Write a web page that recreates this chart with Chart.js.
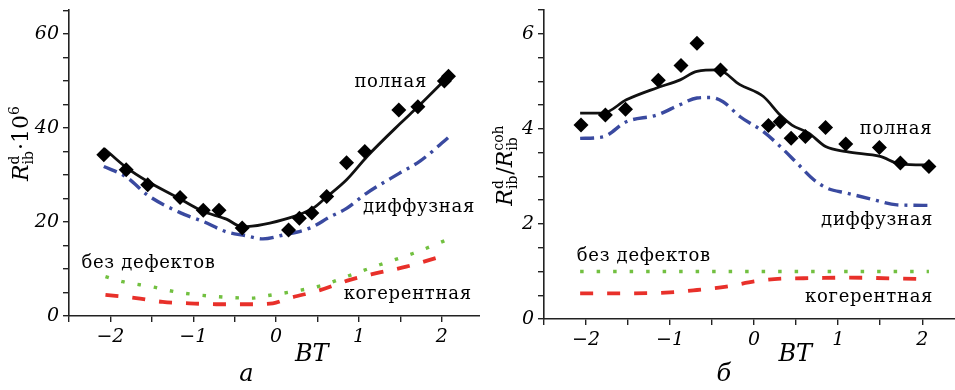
<!DOCTYPE html>
<html>
<head>
<meta charset="utf-8">
<script src="https://cdn.jsdelivr.net/npm/chart.js@4.4.0/dist/chart.umd.min.js"></script>
<style>
  body { margin: 0; background: #fff; width: 955px; height: 390px; overflow: hidden; position: relative; }
  .box { position: absolute; top: 0; height: 390px; }
</style>
</head>
<body>
<div class="box" style="left:0;width:480px"><canvas id="chartA"></canvas></div>
<div class="box" style="left:480px;width:475px"><canvas id="chartB"></canvas></div>
<script>
// ---- panel a : R_ib^d * 10^6 vs BT ----
const dotsBtA = [-2.08, -1.81, -1.55, -1.16, -0.88, -0.69, -0.41, 0.15, 0.28, 0.43, 0.61, 0.85, 1.07, 1.48, 1.71, 2.03, 2.08];
const dotsA   = [34.3, 31.1, 27.9, 25.2, 22.5, 22.5, 18.7, 18.3, 20.8, 21.9, 25.4, 32.6, 35.0, 43.8, 44.5, 50.0, 51.0];

const fullBtA = [-2.08, -1.81, -1.55, -1.2, -0.9, -0.6, -0.41, 0.18, 0.45, 0.6, 0.85, 1.1, 1.5, 1.71, 2.08];
const fullA   = [35.7, 31.6, 28.6, 25.3, 22.4, 20.6, 19.0, 21.0, 23.0, 25.2, 29.0, 34.0, 41.0, 44.5, 51.0];

const diffBtA = [-2.08, -1.81, -1.55, -1.16, -0.88, -0.6, -0.37, -0.16, 0.08, 0.42, 0.64, 0.85, 1.09, 1.49, 1.74, 2.08];
const diffA   = [31.8, 29.6, 25.7, 22.0, 20.1, 17.9, 17.1, 16.4, 17.2, 18.8, 21.0, 22.9, 26.1, 30.4, 33.0, 38.0];

const cleanBtA = [-2.06, -1.85, -1.49, -1.29, -1.09, -0.7, -0.3, -0.12, 0.2, 0.55, 0.85, 1.25, 1.65, 2.06];
const cleanA   = [8.4, 7.3, 6.2, 5.4, 4.8, 4.1, 3.8, 4.3, 5.2, 6.5, 8.4, 10.9, 13.3, 16.2];

const cohBtA = [-2.06, -1.69, -1.37, -1.05, -0.72, -0.32, -0.04, 0.16, 0.53, 0.89, 1.21, 1.57, 1.98];
const cohA   = [4.5, 3.8, 3.0, 2.7, 2.5, 2.5, 2.7, 3.8, 5.5, 7.7, 9.1, 10.5, 12.6];

// ---- panel б : R_ib^d / R_ib^coh vs BT ----
const dotsBtB = [-2.06, -1.77, -1.53, -1.14, -0.87, -0.68, -0.4, 0.17, 0.31, 0.44, 0.61, 0.85, 1.09, 1.49, 1.74, 2.08];
const dotsB   = [4.08, 4.29, 4.41, 5.02, 5.33, 5.8, 5.24, 4.07, 4.15, 3.8, 3.84, 4.03, 3.68, 3.61, 3.28, 3.21];

const fullBtB = [-2.07, -1.8, -1.52, -1.16, -0.88, -0.68, -0.43, -0.17, 0.11, 0.31, 0.45, 0.65, 0.85, 1.1, 1.5, 1.74, 2.08];
const fullB   = [4.33, 4.33, 4.61, 4.86, 5.03, 5.21, 5.24, 4.93, 4.68, 4.29, 4.08, 3.91, 3.63, 3.52, 3.42, 3.26, 3.24];

const diffBtB = [-2.07, -1.8, -1.52, -1.16, -0.88, -0.68, -0.52, -0.37, -0.17, 0.11, 0.31, 0.51, 0.71, 0.87, 1.1, 1.42, 1.7, 2.08];
const diffB   = [3.8, 3.83, 4.15, 4.29, 4.51, 4.65, 4.66, 4.57, 4.26, 3.94, 3.63, 3.28, 2.93, 2.75, 2.65, 2.51, 2.4, 2.39];

const cleanBtB = [-2.07, 2.08];
const cleanB   = [1.0, 1.0];

const cohBtB = [-2.07, -1.5, -1.0, -0.68, -0.33, 0.0, 0.24, 0.73, 1.1, 2.0];
const cohB   = [0.54, 0.54, 0.56, 0.61, 0.68, 0.79, 0.84, 0.86, 0.87, 0.84];

const curveNames = ['полная', 'диффузная', 'без дефектов', 'когерентная'];

// label anchors in data units: [bt, value, align]
const labelsA = [[1.82, 49.8, 'right'], [2.4, 23.2, 'right'], [-2.35, 11.1, 'left'], [2.36, 4.7, 'right']];
const labelsB = [[2.12, 3.98, 'right'], [2.13, 2.08, 'right'], [-2.11, 1.31, 'left'], [2.13, 0.46, 'right']];

const SERIF = '"DejaVu Serif", serif';

function pts(xs, ys) { return xs.map((x, i) => ({ x: x, y: ys[i] })); }
function minus(v) { return v < 0 ? '\u2212' + Math.abs(v) : String(v); }

// R^d_ib style text: parts are {t, it} or {sup, sub}
function richWidth(ctx, parts, size) {
    let w = 0;
    parts.forEach(p => {
        if (p.t !== undefined) {
            ctx.font = (p.it ? 'italic ' : '') + size + 'px ' + SERIF;
            w += ctx.measureText(p.t).width;
        } else {
            ctx.font = Math.round(size * 0.64) + 'px ' + SERIF;
            w += Math.max(ctx.measureText(p.sup || '').width, ctx.measureText(p.sub || '').width) + 1;
        }
    });
    return w;
}
function drawRich(ctx, parts, x, y, size) {
    let cx = x;
    parts.forEach(p => {
        if (p.t !== undefined) {
            ctx.font = (p.it ? 'italic ' : '') + size + 'px ' + SERIF;
            ctx.fillText(p.t, cx, y);
            cx += ctx.measureText(p.t).width;
        } else {
            ctx.font = Math.round(size * 0.64) + 'px ' + SERIF;
            if (p.sup) ctx.fillText(p.sup, cx, y - size * 0.42);
            if (p.sub) ctx.fillText(p.sub, cx, y + size * 0.22);
            cx += Math.max(ctx.measureText(p.sup || '').width, ctx.measureText(p.sub || '').width) + 1;
        }
    });
}

const decorPlugin = {
    id: 'decor',
    afterDraw(chart) {
        const o = chart.options.plugins.decor;
        const ctx = chart.ctx;
        const xs = chart.scales.x, ys = chart.scales.y;
        ctx.save();
        ctx.fillStyle = '#000';
        ctx.textBaseline = 'middle';
        ctx.font = '18px ' + SERIF;
        ctx.letterSpacing = '0.7px';
        o.labels.forEach((l, i) => {
            ctx.textAlign = l[2];
            ctx.fillText(curveNames[i], xs.getPixelForValue(l[0]), ys.getPixelForValue(l[1]));
        });
        ctx.letterSpacing = '0px';
        // x title and panel letter
        ctx.textAlign = 'center';
        ctx.font = 'italic 24px ' + SERIF;
        ctx.fillText('BT', xs.getPixelForValue(o.btAt), 355);
        ctx.fillText(o.letter, xs.getPixelForValue(-0.36), 375);
        // y title, rotated
        ctx.textAlign = 'left';
        ctx.textBaseline = 'alphabetic';
        const w = richWidth(ctx, o.ytitle, 22);
        ctx.translate(o.ytX, o.ytY);
        ctx.rotate(-Math.PI / 2);
        drawRich(ctx, o.ytitle, -w / 2, 0, 22);
        ctx.restore();
    }
};

function makeChart(id, sets, cfg) {
    const diamonds = {
        label: 'эксперимент', data: pts(sets[0][0], sets[0][1]), showLine: false,
        pointStyle: 'rectRot', pointRadius: 7.5, backgroundColor: '#000', borderColor: '#000', borderWidth: 0, order: 0
    };
    const styles = [
        { borderColor: '#111', borderWidth: 2.8, borderDash: [] },
        { borderColor: '#3a4aa0', borderWidth: 3.4, borderDash: [14, 6, 3, 6] },
        { borderColor: '#72c040', borderWidth: 3.4, borderDash: [3.5, 13] },
        { borderColor: '#e8302a', borderWidth: 3.8, borderDash: [13, 14] }
    ];
    const lines = styles.map((s, i) => Object.assign({
        label: curveNames[i], data: pts(sets[i + 1][0], sets[i + 1][1]), showLine: true,
        pointRadius: 0, fill: false, cubicInterpolationMode: 'monotone', borderCapStyle: 'butt', order: 1
    }, s));

    const axisBase = {
        type: 'linear',
        border: { display: true, color: '#222', width: 1.6 },
        grid: { display: true, drawOnChartArea: false, drawTicks: true, tickLength: 6, color: '#222', lineWidth: 1.4 },
    };

    return new Chart(document.getElementById(id), {
        type: 'scatter',
        data: { datasets: [diamonds].concat(lines) },
        options: {
            responsive: true, maintainAspectRatio: false, animation: false,
            layout: { autoPadding: false, padding: { top: 10, right: 0, left: 0, bottom: 0 } },
            plugins: {
                legend: { display: false }, tooltip: { enabled: false },
                decor: cfg.decor
            },
            scales: {
                x: Object.assign({}, axisBase, {
                    min: -2.5, max: cfg.xMax,
                    afterFit: s => { s.height = cfg.xh; s.paddingLeft = 0; s.paddingRight = 0; },
                    ticks: {
                        stepSize: 0.5, includeBounds: false, maxRotation: 0, autoSkip: false, padding: 4,
                        color: '#000', font: { family: SERIF, size: 19, style: 'italic' },
                        callback: v => Number.isInteger(v) ? minus(v) : ''
                    }
                }),
                y: Object.assign({}, axisBase, {
                    min: 0, max: cfg.yMax,
                    afterFit: s => { s.width = cfg.yw; s.paddingTop = 0; s.paddingBottom = 0; },
                    ticks: {
                        stepSize: cfg.yStep, includeBounds: false, autoSkip: false, padding: 4,
                        color: '#000', font: { family: SERIF, size: 19, style: 'italic' },
                        callback: v => (Math.abs(v / cfg.yMajor - Math.round(v / cfg.yMajor)) < 1e-6) ? String(v) : ''
                    }
                })
            }
        },
        plugins: [decorPlugin]
    });
}

makeChart('chartA', [
    [dotsBtA, dotsA], [fullBtA, fullA], [diffBtA, diffA], [cleanBtA, cleanA], [cohBtA, cohA]
], {
    xh: 74, yw: 69, xMax: 2.46, yMax: 65.1, yStep: 5, yMajor: 20,
    decor: {
        labels: labelsA, letter: 'а', btAt: 0.43, ytX: 28, ytY: 143,
        ytitle: [{ t: 'R', it: true }, { sup: 'd', sub: 'ib' }, { t: '\u00b710' }, { sup: '6', sub: '' }]
    }
});

makeChart('chartB', [
    [dotsBtB, dotsB], [fullBtB, fullB], [diffBtB, diffB], [cleanBtB, cleanB], [cohBtB, cohB]
], {
    xh: 71, yw: 64, xMax: 2.39, yMax: 6.5, yStep: 0.5, yMajor: 2,
    decor: {
        labels: labelsB, letter: 'б', btAt: 0.49, ytX: 32, ytY: 165,
        ytitle: [{ t: 'R', it: true }, { sup: 'd', sub: 'ib' }, { t: '/' }, { t: 'R', it: true }, { sup: 'coh', sub: 'ib' }]
    }
});
</script>
</body>
</html>
